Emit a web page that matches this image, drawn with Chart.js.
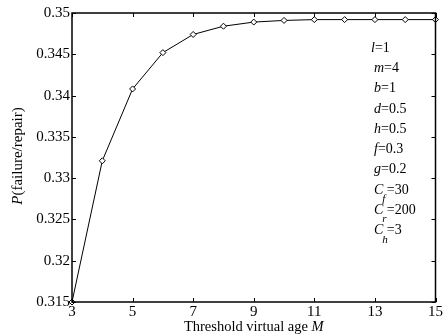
<!DOCTYPE html>
<html>
<head>
<meta charset="utf-8">
<script src="https://cdn.jsdelivr.net/npm/chart.js@4"></script>
<style>
  html, body { margin: 0; padding: 0; background: #fff; }
  #wrap { width: 444px; height: 335px; position: relative; }
</style>
</head>
<body>
<div id="wrap"><canvas id="chart"></canvas></div>
<script>
'use strict';

// DATA
let thresholdAges = [3, 4, 5, 6, 7, 8, 9, 10, 11, 12, 13, 14, 15];
let failureRepair = [0.315, 0.3321, 0.3408, 0.3452, 0.3474, 0.3484, 0.3489, 0.3491, 0.3492, 0.3492, 0.3492, 0.3492, 0.3492];
let xTicks = [3, 5, 7, 9, 11, 13, 15];
let yTicks = [0.315, 0.32, 0.325, 0.33, 0.335, 0.34, 0.345, 0.35];

// parameter labels: [main, subscript, rest]
let paramLabels = [
  ['l', '', '=1'],
  ['m', '', '=4'],
  ['b', '', '=1'],
  ['d', '', '=0.5'],
  ['h', '', '=0.5'],
  ['f', '', '=0.3'],
  ['g', '', '=0.2'],
  ['C', 'f', ' =30'],
  ['C', 'r', ' =200'],
  ['C', 'h', ' =3']
];

const FONT = '"Liberation Serif", "Times New Roman", serif';

let points = thresholdAges.map((x, i) => ({ x: x, y: failureRepair[i] }));

// draws the box, inward ticks, axis titles and the parameter notes
const decorPlugin = {
  id: 'decor',
  afterDraw(chart) {
    const ctx = chart.ctx;
    const a = chart.chartArea;
    const xs = chart.scales.x;
    const ys = chart.scales.y;
    ctx.save();
    ctx.strokeStyle = '#000';
    ctx.lineWidth = 1;
    ctx.beginPath();
    xTicks.forEach(v => {
      let px = Math.round(xs.getPixelForValue(v)) + 0.5;
      ctx.moveTo(px, a.bottom); ctx.lineTo(px, a.bottom - 4);
      ctx.moveTo(px, a.top); ctx.lineTo(px, a.top + 4);
    });
    yTicks.forEach(v => {
      let py = Math.round(ys.getPixelForValue(v)) + 0.5;
      ctx.moveTo(a.left, py); ctx.lineTo(a.left + 4, py);
      ctx.moveTo(a.right, py); ctx.lineTo(a.right - 4, py);
    });
    ctx.stroke();

    ctx.lineWidth = 1.5;
    ctx.strokeRect(a.left, a.top, a.right - a.left, a.bottom - a.top);

    ctx.fillStyle = '#000';
    // x title
    ctx.textBaseline = 'alphabetic';
    let t1 = 'Threshold virtual age ';
    ctx.font = 'italic 14.5px ' + FONT;
    let wM = ctx.measureText('M').width;
    ctx.font = '14.5px ' + FONT;
    let w1 = ctx.measureText(t1).width;
    let cx = (a.left + a.right) / 2;
    let startX = cx - (w1 + wM) / 2;
    ctx.textAlign = 'left';
    ctx.fillText(t1, startX, 331);
    ctx.font = 'italic 14.5px ' + FONT;
    ctx.fillText('M', startX + w1, 331);

    // y title
    ctx.translate(22, 156);
    ctx.rotate(-Math.PI / 2);
    ctx.font = 'italic 15px ' + FONT;
    let wP = ctx.measureText('P').width;
    ctx.font = '15px ' + FONT;
    let t2 = '(failure/repair)';
    let w2 = ctx.measureText(t2).width;
    let sx = -(wP + w2) / 2;
    ctx.font = 'italic 15px ' + FONT;
    ctx.fillText('P', sx, 0);
    ctx.font = '15px ' + FONT;
    ctx.fillText(t2, sx + wP, 0);
    ctx.restore();

    // parameter notes
    ctx.save();
    ctx.fillStyle = '#000';
    ctx.textBaseline = 'middle';
    ctx.textAlign = 'left';
    paramLabels.forEach((p, i) => {
      let y = 48 + i * 20.3;
      let x = i === 0 ? 371 : 374;
      ctx.font = 'italic 14px ' + FONT;
      ctx.fillText(p[0], x, y);
      let w = ctx.measureText(p[0]).width;
      if (p[1]) {
        ctx.font = 'italic 11px ' + FONT;
        ctx.fillText(p[1], x + w - 1, y + 9);
      }
      ctx.font = '14px ' + FONT;
      ctx.fillText(p[2], x + w, y);
    });
    ctx.restore();
  }
};

new Chart(document.getElementById('chart'), {
  type: 'line',
  data: {
    datasets: [{
      data: points,
      borderColor: '#000',
      borderWidth: 1,
      pointStyle: 'rectRot',
      pointRadius: 3,
      pointBorderWidth: 1,
      pointBackgroundColor: '#fff',
      pointBorderColor: '#000',
      tension: 0,
      clip: false
    }]
  },
  options: {
    responsive: true,
    maintainAspectRatio: false,
    animation: false,
    layout: { padding: { top: 13, right: 4, left: 0, bottom: 0 } },
    plugins: {
      legend: { display: false },
      tooltip: { enabled: false }
    },
    scales: {
      x: {
        type: 'linear',
        min: 3,
        max: 15,
        afterBuildTicks: s => { s.ticks = xTicks.map(v => ({ value: v })); },
        afterFit: s => { s.height = 33; },
        grid: { display: false, drawTicks: false },
        border: { display: false },
        ticks: {
          color: '#000',
          padding: 1,
          maxRotation: 0,
          font: { family: FONT, size: 15 }
        }
      },
      y: {
        type: 'linear',
        min: 0.315,
        max: 0.35,
        afterBuildTicks: s => { s.ticks = yTicks.map(v => ({ value: v })); },
        afterFit: s => { s.width = 72; },
        grid: { display: false, drawTicks: false },
        border: { display: false },
        ticks: {
          color: '#000',
          padding: 2,
          font: { family: FONT, size: 15 },
          callback: v => String(Number(v.toFixed(3)))
        }
      }
    }
  },
  plugins: [decorPlugin]
});
</script>
</body>
</html>
